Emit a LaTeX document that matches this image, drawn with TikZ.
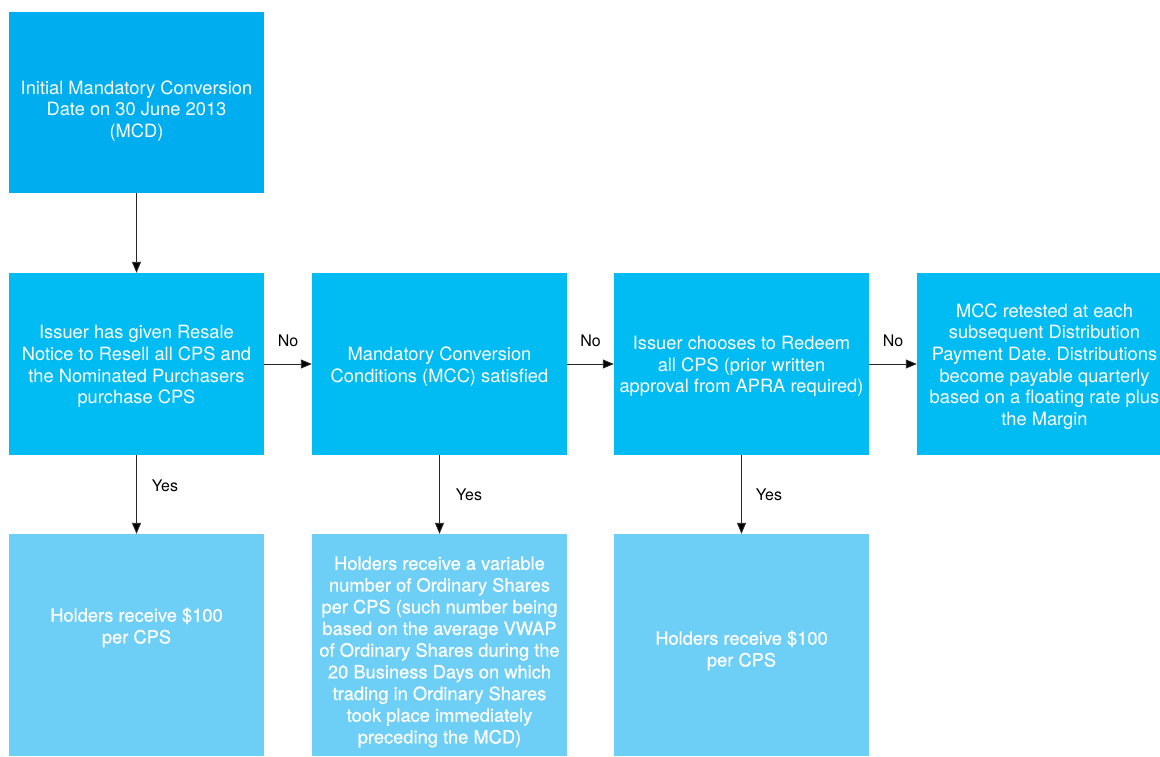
\documentclass[tikz,border=0pt]{standalone}
\usepackage{fontspec}
\setmainfont{TeX Gyre Heros}
\newfontfamily\medfont[FakeBold=0.6]{TeX Gyre Heros}
\usetikzlibrary{arrows.meta}
\definecolor{topblue}{HTML}{00ADEF}
\definecolor{midblue}{HTML}{00BCF2}
\definecolor{lowblue}{HTML}{6DCFF6}
\begin{document}
\begin{tikzpicture}[x=1pt,y=-1pt,
  box/.style={rectangle, inner sep=0pt, minimum width=255pt},
  toptbox/.style={box, fill=topblue, minimum height=181pt},
  midbox/.style={box, fill=midblue, minimum height=182pt},
  lowbox/.style={box, fill=lowblue, minimum height=222pt},
  boxtext/.style={text=white, align=center, inner sep=0pt, font=\fontsize{18.3}{21.7}\selectfont},
  lowtext/.style={boxtext, font=\medfont\fontsize{18.3}{21.7}\selectfont},
  arr/.style={draw=black!85, line width=0.9pt, -{Triangle[length=11pt,width=9pt,fill=black]}},
  lab/.style={text=black, inner sep=0pt, font=\fontsize{16}{18}\selectfont}
]
\useasboundingbox (0,0) rectangle (1160,756);

% top box
\node[toptbox] (mcd) at (136.5,102.5) {};
\node[boxtext] (mcdtext) at (136.5,111) {Initial Mandatory Conversion\\Date on 30 June 2013\\(MCD)};

% middle row
\node[midbox] (resale) at (136.5,364) {};
\node[boxtext] (resaletext) at (136.5,366.5) {Issuer has given Resale\\Notice to Resell all CPS and\\the Nominated Purchasers\\purchase CPS};
\node[midbox] (mcc) at (439.5,364) {};
\node[boxtext] (mcctext) at (439.5,366.5) {Mandatory Conversion\\Conditions (MCC) satisfied};
\node[midbox] (redeem) at (741.5,364) {};
\node[boxtext] (redeemtext) at (741.5,366.5) {Issuer chooses to Redeem\\all CPS (prior written\\approval from APRA required)};
\node[midbox] (retest) at (1044.5,364) {};
\node[boxtext] (retesttext) at (1044.5,366.5) {MCC retested at each\\subsequent Distribution\\Payment Date.\ Distributions\\become payable quarterly\\based on a floating rate plus\\the Margin};

% bottom row
\node[lowbox] (payA) at (136.5,645) {};
\node[lowtext] (payAtext) at (136.5,627.5) {Holders receive \$100\\per CPS};
\node[lowbox] (shares) at (439.5,645) {};
\node[lowtext] (sharestext) at (439.5,652) {Holders receive a variable\\number of Ordinary Shares\\per CPS (such number being\\based on the average VWAP\\of Ordinary Shares during the\\20 Business Days on which\\trading in Ordinary Shares\\took place immediately\\preceding the MCD)};
\node[lowbox] (payB) at (741.5,645) {};
\node[lowtext] (payBtext) at (741.5,650.5) {Holders receive \$100\\per CPS};

% connectors
\draw[arr] (mcd) -- (resale);
\draw[arr] (resale) -- node[lab, yshift=23pt] {No} (mcc);
\draw[arr] (mcc) -- node[lab, yshift=23pt] {No} (redeem);
\draw[arr] (redeem) -- node[lab, yshift=23pt] {No} (retest);
\draw[arr] (resale) -- node[lab, xshift=28.5pt, yshift=8.5pt] {Yes} (payA);
\draw[arr] (mcc) -- node[lab, xshift=29.5pt, yshift=0pt] {Yes} (shares);
\draw[arr] (redeem) -- node[lab, xshift=27.5pt, yshift=0pt] {Yes} (payB);
\end{tikzpicture}
\end{document}
